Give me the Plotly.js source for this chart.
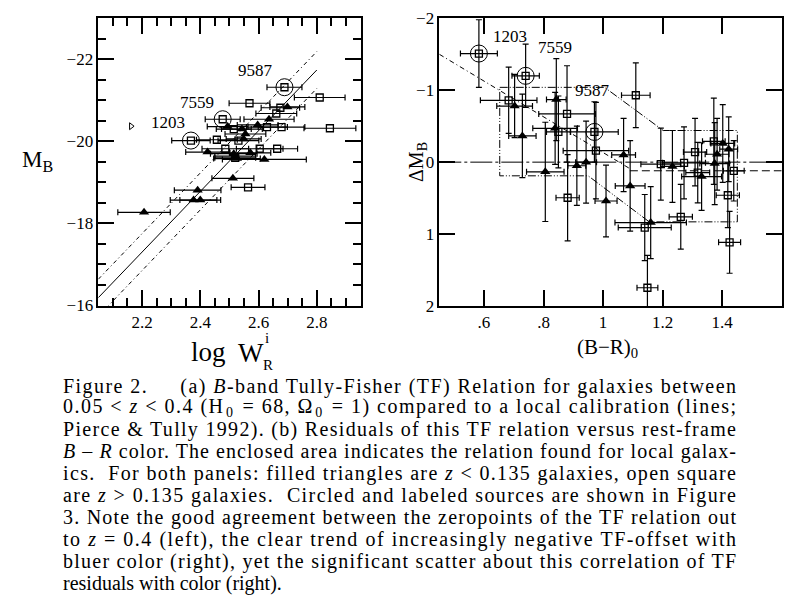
<!DOCTYPE html>
<html><head><meta charset="utf-8">
<script src="https://cdn.plot.ly/plotly-3.0.1.min.js"></script>
<style>html,body{margin:0;padding:0;background:#fff}</style>
</head><body><div id="chart" style="width:801px;height:609px"></div>
<script>
// ---------- Panel (a): Tully-Fisher relation ----------
const leftTriLogW = [2.636, 2.494, 2.543, 2.555, 2.549, 2.425, 2.515, 2.572, 2.526, 2.620, 2.512, 2.391, 2.377, 2.400, 2.207, 2.520, 2.699, 2.597];
const leftTriMB   = [-20.54, -20.36, -20.30, -20.18, -20.06, -19.74, -19.70, -19.72, -19.58, -19.56, -19.10, -18.81, -18.57, -18.57, -18.27, -19.64, -20.84, -20.40];
const leftTriErr  = [0.086, 0.07, 0.07, 0.07, 0.06, 0.075, 0.08, 0.07, 0.08, 0.144, 0.072, 0.08, 0.08, 0.07, 0.09, 0.07, 0.06, 0.07];

const leftSqLogW = [2.810, 2.569, 2.675, 2.661, 2.515, 2.629, 2.679, 2.845, 2.457, 2.531, 2.486, 2.604, 2.664, 2.564, 2.520];
const leftSqMB   = [-21.07, -20.93, -20.82, -20.68, -20.30, -20.35, -20.35, -20.32, -20.04, -20.02, -19.82, -19.82, -19.82, -18.88, -19.60];
const leftSqErr  = [0.087, 0.07, 0.066, 0.07, 0.06, 0.07, 0.08, 0.089, 0.07, 0.07, 0.08, 0.08, 0.07, 0.058, 0.07];

const leftCircLogW = [2.368, 2.477, 2.689];
const leftCircMB   = [-20.02, -20.54, -21.32];
const leftCircErr  = [0.066, 0.06, 0.06];
const sourceNames  = ['1203', '7559', '9587'];

const oddLogW = [2.1625];
const oddMB   = [-20.37];

// local calibration (Pierce & Tully 1992) lines
const tfLogW     = [2.05, 2.80];
const tfMB       = [-16.19, -21.74];
const tfUpperMB  = [-16.64, -22.19];
const tfLowerMB  = [-15.74, -21.29];

// ---------- Panel (b): residuals vs colour ----------
const rightTriBR   = [0.703, 0.729, 0.843, 0.839, 0.806, 0.912, 0.943, 1.069, 1.091, 1.010, 1.160, 1.233, 1.331, 1.375, 1.383, 1.402, 1.422];
const rightTriDM   = [-0.78, -0.365, -0.87, -0.47, 0.135, 0.05, 0.00, -0.10, 0.33, 0.54, 0.84, 0.06, 0.20, 0.02, -0.11, -0.26, -0.18];
const rightTriErrX = [0.06, 0.046, 0.033, 0.075, 0.063, 0.03, 0.035, 0.04, 0.05, 0.037, 0.12, 0.04, 0.067, 0.05, 0.04, 0.04, 0.03];
const rightTriErrY = [0.44, 0.58, 0.57, 0.5, 0.69, 0.55, 0.57, 0.51, 0.63, 0.5, 0.5, 0.5, 0.47, 0.57, 0.5, 0.54, 0.45];

const rightSqBR   = [0.683, 0.850, 0.879, 0.976, 0.881, 1.110, 1.140, 1.149, 1.194, 1.261, 1.272, 1.309, 1.318, 1.372, 1.419, 1.425, 1.439];
const rightSqDM   = [-0.86, -0.42, -0.67, -0.16, 0.495, -0.93, 0.91, 1.746, 0.028, 0.76, 0.01, -0.14, 0.145, -0.29, 0.46, 1.115, 0.12];
const rightSqErrX = [0.095, 0.04, 0.095, 0.11, 0.039, 0.048, 0.089, 0.035, 0.067, 0.039, 0.072, 0.039, 0.04, 0.038, 0.039, 0.037, 0.035];
const rightSqErrY = [0.46, 0.5, 0.67, 0.67, 0.6, 0.45, 0.46, 0.45, 0.5, 0.45, 0.5, 0.47, 0.42, 0.6, 0.45, 0.43, 0.42];

const rightCircBR   = [0.583, 0.740, 0.971];
const rightCircDM   = [-1.51, -1.20, -0.42];
const rightCircErrX = [0.062, 0.046, 0.08];
const rightCircErrY = [0.47, 0.44, 0.42];

const trendBR = [0.45, 1.09];
const trendDM = [-1.50, 0.09];
const zeroBR  = [0.45, 1.60];
const zeroDM  = [0, 0];
const localBR = [1.09, 1.60];
const localDM = [0.12, 0.12];
const enclosureBR = [0.653, 1.005, 1.202, 1.451, 1.451, 1.155, 0.950, 0.653, 0.653];
const enclosureDM = [-1.04, -1.04, -0.44, -0.44, 0.83, 0.83, 0.19, 0.19, -1.04];

// tick labels
const leftXTicks  = [2.2, 2.4, 2.6, 2.8];
const leftYTicks  = [-22, -20, -18, -16];
const rightXTicks = [0.6, 0.8, 1.0, 1.2, 1.4];
const rightXText  = ['.6', '.8', '1', '1.2', '1.4'];
const rightYTicks = [-2, -1, 0, 1, 2];

const captionLines = [
  'Figure 2.\u00a0\u00a0\u00a0\u00a0 (a) <i>B</i>-band Tully-Fisher (TF) Relation for galaxies between',
  '0.05 &lt; <i>z</i> &lt; 0.4 (H<sub>0</sub> = 68, \u03a9<sub>0</sub> = 1) compared to a local calibration (lines;',
  'Pierce &amp; Tully 1992). (b) Residuals of this TF relation versus rest-frame',
  '<i>B</i> \u2013 <i>R</i> color. The enclosed area indicates the relation found for local galax-',
  'ics.\u00a0 For both panels: filled triangles are <i>z</i> &lt; 0.135 galaxies, open square',
  'are <i>z</i> &gt; 0.135 galaxies.\u00a0 Circled and labeled sources are shown in Figure',
  '3. Note the good agreement between the zeropoints of the TF relation out',
  'to <i>z</i> = 0.4 (left), the clear trend of increasingly negative TF-offset with',
  'bluer color (right), yet the significant scatter about this correlation of TF',
  'residuals with color (right).'
];

// ---------- drawing ----------
const SERIF = 'Liberation Serif, Times New Roman, serif';
const W = 801, H = 609;
const px = x => x / W, py = y => 1 - y / H;

function errBar(arr) { return {type: 'data', array: arr, visible: true, color: '#000', thickness: 1.2, width: 3}; }

const triMarker = {symbol: 'triangle-up', size: 9, color: '#000', line: {width: 0}};
const sqMarker = {symbol: 'square-open', size: 7, color: '#000', line: {width: 1.3, color: '#000'}};
const circMarker = {symbol: 'circle-open', size: 17, color: '#000', line: {width: 1, color: '#000'}};

const traces = [
  {x: tfLogW, y: tfMB, mode: 'lines', line: {color: '#000', width: 1}, xaxis: 'x', yaxis: 'y'},
  {x: tfLogW, y: tfUpperMB, mode: 'lines', line: {color: '#000', width: 1, dash: '4px,3px,1px,3px'}, xaxis: 'x', yaxis: 'y'},
  {x: tfLogW, y: tfLowerMB, mode: 'lines', line: {color: '#000', width: 1, dash: '4px,3px,1px,3px'}, xaxis: 'x', yaxis: 'y'},
  {x: leftSqLogW, y: leftSqMB, mode: 'markers', marker: sqMarker, error_x: errBar(leftSqErr), xaxis: 'x', yaxis: 'y'},
  {x: leftTriLogW, y: leftTriMB, mode: 'markers', marker: triMarker, error_x: errBar(leftTriErr), xaxis: 'x', yaxis: 'y'},
  {x: leftCircLogW, y: leftCircMB, mode: 'markers', marker: sqMarker, error_x: errBar(leftCircErr), xaxis: 'x', yaxis: 'y'},
  {x: leftCircLogW, y: leftCircMB, mode: 'markers', marker: circMarker, xaxis: 'x', yaxis: 'y'},
  {x: oddLogW, y: oddMB, mode: 'markers', marker: {symbol: 'triangle-right-open', size: 6, color: '#000', line: {width: 1, color: '#000'}}, xaxis: 'x', yaxis: 'y'},
  {x: zeroBR, y: zeroDM, mode: 'lines', line: {color: '#000', width: 1, dash: '22px,3px,3px,3px'}, xaxis: 'x2', yaxis: 'y2'},
  {x: localBR, y: localDM, mode: 'lines', line: {color: '#000', width: 1, dash: '8px,4px'}, xaxis: 'x2', yaxis: 'y2'},
  {x: trendBR, y: trendDM, mode: 'lines', line: {color: '#000', width: 1, dash: '5px,3px,1px,3px'}, xaxis: 'x2', yaxis: 'y2'},
  {x: enclosureBR, y: enclosureDM, mode: 'lines', line: {color: '#000', width: 1, dash: '8px,2px,1px,2px,1px,2px'}, xaxis: 'x2', yaxis: 'y2'},
  {x: rightSqBR, y: rightSqDM, mode: 'markers', marker: sqMarker, error_x: errBar(rightSqErrX), error_y: errBar(rightSqErrY), xaxis: 'x2', yaxis: 'y2'},
  {x: rightTriBR, y: rightTriDM, mode: 'markers', marker: triMarker, error_x: errBar(rightTriErrX), error_y: errBar(rightTriErrY), xaxis: 'x2', yaxis: 'y2'},
  {x: rightCircBR, y: rightCircDM, mode: 'markers', marker: sqMarker, error_x: errBar(rightCircErrX), error_y: errBar(rightCircErrY), xaxis: 'x2', yaxis: 'y2'},
  {x: rightCircBR, y: rightCircDM, mode: 'markers', marker: circMarker, xaxis: 'x2', yaxis: 'y2'}
];

function axisBase() {
  return {
    showline: true, linecolor: '#000', linewidth: 1.5, mirror: 'allticks',
    ticks: 'inside', ticklen: 16, tickwidth: 2, tickcolor: '#000',
    showgrid: false, zeroline: false,
    tickfont: {family: SERIF, size: 17, color: '#000'}
  };
}
function minorTicks(dt, t0) {
  return {ticks: 'inside', ticklen: 8, tickwidth: 2, tickcolor: '#000', dtick: dt, tick0: t0, showgrid: false};
}

const xaxis = Object.assign(axisBase(), {
  domain: [px(98.3), px(360.5)], range: [2.05, 2.95], anchor: 'y',
  tickmode: 'array', tickvals: leftXTicks, minor: minorTicks(0.05, 2.0)
});
const yaxis = Object.assign(axisBase(), {
  domain: [py(305.5), py(18.3)], range: [-16, -23], anchor: 'x',
  tickmode: 'array', tickvals: leftYTicks, minor: minorTicks(0.5, -16)
});
const xaxis2 = Object.assign(axisBase(), {
  domain: [px(439.3), px(781.7)], range: [0.45, 1.6], anchor: 'y2',
  tickmode: 'array', tickvals: rightXTicks, ticktext: rightXText
});
const yaxis2 = Object.assign(axisBase(), {
  domain: [py(306), py(18.3)], range: [2, -2], anchor: 'x2',
  tickmode: 'array', tickvals: rightYTicks
});

const annotations = [];
const leftLabelPos = [[2.290, -20.46], [2.388, -20.96], [2.591, -21.73]];
const rightLabelPos = [[0.689, -1.75], [0.839, -1.60], [0.964, -1.00]];
const labelFont = {family: SERIF, size: 17, color: '#000'};
sourceNames.forEach((n, i) => {
  annotations.push({x: leftLabelPos[i][0], y: leftLabelPos[i][1], xref: 'x', yref: 'y', xanchor: 'center', yanchor: 'middle', text: n, showarrow: false, font: labelFont});
  annotations.push({x: rightLabelPos[i][0], y: rightLabelPos[i][1], xref: 'x2', yref: 'y2', xanchor: 'center', yanchor: 'middle', text: n, showarrow: false, font: labelFont});
});
function paperText(x, y, text, size, extra) {
  annotations.push(Object.assign({x: px(x), y: py(y), xref: 'paper', yref: 'paper', xanchor: 'center', yanchor: 'middle',
    text: text, showarrow: false, font: {family: SERIF, size: size, color: '#000'}}, extra || {}));
}
// axis titles
paperText(37, 161, 'M<sub>B</sub>', 23);
paperText(208, 352, 'log', 27);
paperText(251, 353, 'W', 27);
paperText(267, 338, 'i', 15);
paperText(268, 365, 'R', 15);
paperText(417, 162, '\u0394M<sub>B</sub>', 20, {textangle: -90});
paperText(607, 348, '(B\u2212R)<sub>0</sub>', 21);
// caption
const captionStart = annotations.length;
captionLines.forEach((t, i) => {
  paperText(62, 386 + i * 21.9, t, 20, {xanchor: 'left', align: 'left', borderpad: 0});
});

const layout = {
  width: W, height: H, margin: {l: 0, r: 0, t: 0, b: 0},
  paper_bgcolor: '#fff', plot_bgcolor: '#fff', showlegend: false,
  xaxis, yaxis, xaxis2, yaxis2, annotations,
  font: {family: SERIF, color: '#000'}
};

Plotly.newPlot('chart', traces, layout, {displayModeBar: false}).then(() => {
  // justify caption lines (all but the last) to the caption width, like the typeset original
  for (let i = 0; i < captionLines.length - 1; i++) {
    const t = document.querySelector('g.annotation[data-index="' + (captionStart + i) + '"] text.annotation-text');
    if (t) { t.setAttribute('textLength', 673); t.setAttribute('lengthAdjust', 'spacing'); }
  }
});
</script></body></html>
